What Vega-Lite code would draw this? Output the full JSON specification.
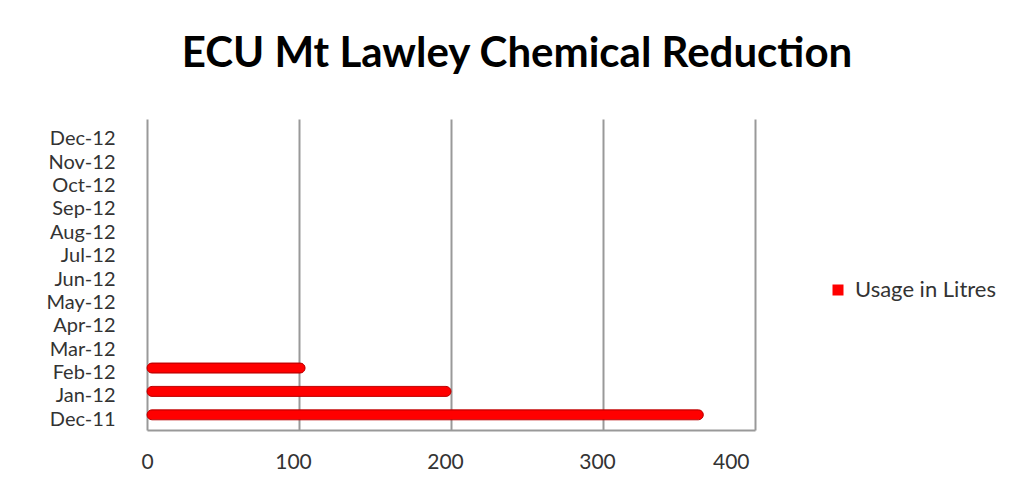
{
  "$schema": "https://vega.github.io/schema/vega-lite/v6.json",
  "autosize": "none",
  "width": 608,
  "height": 311,
  "padding": {"left": 147, "top": 119, "right": 254, "bottom": 63},
  "background": "white",
  "title": {
    "text": "ECU Mt Lawley Chemical Reduction",
    "font": "Lato",
    "fontSize": 42,
    "fontWeight": "bold",
    "color": "#000000",
    "anchor": "middle",
    "dx": 66,
    "baseline": "alphabetic",
    "offset": 10
  },
  "data": {
    "values": [
      {"month": "Dec-11", "usage": 366, "series": "Usage in Litres"},
      {"month": "Jan-12", "usage": 200, "series": "Usage in Litres"},
      {"month": "Feb-12", "usage": 104, "series": "Usage in Litres"}
    ]
  },
  "mark": {"type": "bar", "size": 10, "cornerRadius": 5, "stroke": "#c00000", "strokeWidth": 1},
  "encoding": {
    "y": {
      "field": "month",
      "type": "nominal",
      "scale": {
        "domain": ["Dec-12", "Nov-12", "Oct-12", "Sep-12", "Aug-12", "Jul-12", "Jun-12", "May-12", "Apr-12", "Mar-12", "Feb-12", "Jan-12", "Dec-11"],
        "paddingInner": 0,
        "paddingOuter": 0.15
      },
      "axis": {
        "title": null,
        "domain": false,
        "ticks": false,
        "labelPadding": 32,
        "labelOffset": 5,
        "labelFont": "Lato",
        "labelFontSize": 20,
        "labelColor": "#333333"
      }
    },
    "x": {
      "field": "usage",
      "type": "quantitative",
      "scale": {"domain": [0, 400], "nice": false},
      "axis": {
        "title": null,
        "values": [0, 100, 200, 300, 400],
        "grid": true,
        "gridColor": "#999999",
        "gridWidth": 2,
        "domain": true,
        "domainColor": "#999999",
        "domainWidth": 2,
        "ticks": false,
        "labelPadding": 21,
        "labelOffset": -6,
        "labelFont": "Lato",
        "labelFontSize": 21,
        "labelColor": "#333333"
      }
    },
    "color": {
      "field": "series",
      "type": "nominal",
      "scale": {"domain": ["Usage in Litres"], "range": ["#ff0000"]},
      "legend": {
        "title": null,
        "orient": "none",
        "legendX": 680,
        "legendY": 160,
        "padding": 0,
        "symbolType": "square",
        "symbolSize": 121,
        "symbolStrokeWidth": 0,
        "labelFont": "Lato",
        "labelFontSize": 22,
        "labelColor": "#333333",
        "labelOffset": 6
      }
    }
  },
  "config": {"view": {"stroke": null}}
}
